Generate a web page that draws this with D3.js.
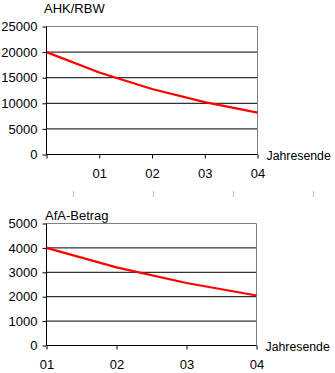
<!DOCTYPE html>
<html>
<head>
<meta charset="utf-8">
<script src="https://cdn.jsdelivr.net/npm/d3@7"></script>
<style>
  body { margin: 0; background: #fff; }
  svg { display: block; font-family: "Liberation Sans", Arial, sans-serif; }
</style>
</head>
<body>
<div id="chart"></div>
<script>
// Restbuchwert at year end (index 0 = purchase)
var rbwYears = ["", "01", "02", "03", "04"];
var rbwValues = [20000, 16000, 12800, 10240, 8192];
var rbwTicks = [0, 5000, 10000, 15000, 20000, 25000];

// AfA amount per year
var afaYears = ["01", "02", "03", "04"];
var afaValues = [4000, 3200, 2560, 2048];
var afaTicks = [0, 1000, 2000, 3000, 4000, 5000];

// leftover gray tick marks between the two charts
var strayTicks = [0, 1, 2, 3];

var width = 335, height = 373;

var svg = d3.select("#chart").append("svg")
    .attr("width", width)
    .attr("height", height);

function drawPanel(opts) {
  var x = d3.scaleLinear().domain([0, opts.labels.length - 1]).range([opts.left, opts.right]);
  var y = d3.scaleLinear().domain([0, opts.yMax]).range([opts.bottom, opts.top]);
  var g = svg.append("g");

  // gridlines
  g.selectAll("line.grid")
    .data(opts.yTicks.slice(1))
    .enter().append("line")
    .attr("class", "grid")
    .attr("x1", opts.left).attr("x2", opts.right)
    .attr("y1", d => y(d)).attr("y2", d => y(d))
    .attr("stroke", d => d === opts.yMax ? "#808080" : "#000")
    .attr("stroke-width", 1);

  // right border
  g.append("line")
    .attr("x1", opts.right).attr("x2", opts.right)
    .attr("y1", opts.top).attr("y2", opts.bottom)
    .attr("stroke", "#808080");

  var yAxis = d3.axisLeft(y)
      .tickValues(opts.yTicks)
      .tickSize(4)
      .tickPadding(5)
      .tickFormat(d3.format("d"));
  var ya = g.append("g")
      .attr("transform", "translate(" + opts.left + ",0)")
      .call(yAxis);

  var xAxis = d3.axisBottom(x)
      .tickValues(d3.range(opts.labels.length))
      .tickSize(4)
      .tickPadding(10)
      .tickFormat(i => opts.labels[i]);
  var xa = g.append("g")
      .attr("transform", "translate(0," + opts.bottom + ")")
      .call(xAxis);

  [ya, xa].forEach(function(a) {
    a.select(".domain").attr("stroke", "#000");
    a.selectAll(".tick line").attr("stroke", "#000");
    a.selectAll("text")
      .attr("fill", "#000")
      .style("font-size", "13px")
      .style("font-family", "'Liberation Sans', Arial, sans-serif");
  });
  xa.select(".domain").attr("d", "M" + opts.left + ",0H" + opts.right);
  ya.select(".domain").attr("d", "M0," + opts.bottom + "V" + opts.top);

  // red line
  var line = d3.line()
      .x((d, i) => x(i))
      .y(d => y(d));
  g.append("path")
    .datum(opts.values)
    .attr("fill", "none")
    .attr("stroke", "#ff0000")
    .attr("stroke-width", 2.2)
    .attr("d", line);

  // title
  g.append("text")
    .attr("x", opts.titleX)
    .attr("y", opts.titleY)
    .attr("font-size", "13px")
    .text(opts.title);

  // axis caption
  g.append("text")
    .attr("x", opts.right + 9)
    .attr("y", opts.bottom + 5)
    .attr("font-size", "12.3px")
    .text("Jahresende");
}

drawPanel({
  labels: rbwYears, values: rbwValues, yTicks: rbwTicks, yMax: 25000,
  left: 46.5, right: 257.5, top: 26.5, bottom: 154.5,
  title: "AHK/RBW", titleX: 44, titleY: 13
});

drawPanel({
  labels: afaYears, values: afaValues, yTicks: afaTicks, yMax: 5000,
  left: 46.5, right: 256.5, top: 223.5, bottom: 345.5,
  title: "AfA-Betrag", titleX: 45, titleY: 220
});

var sx = d3.scaleLinear().domain([0, 3]).range([73.5, 313.5]);
svg.selectAll("line.stray")
  .data(strayTicks)
  .enter().append("line")
  .attr("class", "stray")
  .attr("x1", d => sx(d)).attr("x2", d => sx(d))
  .attr("y1", 191).attr("y2", 197)
  .attr("stroke", "#c0c0c0");
</script>
</body>
</html>
